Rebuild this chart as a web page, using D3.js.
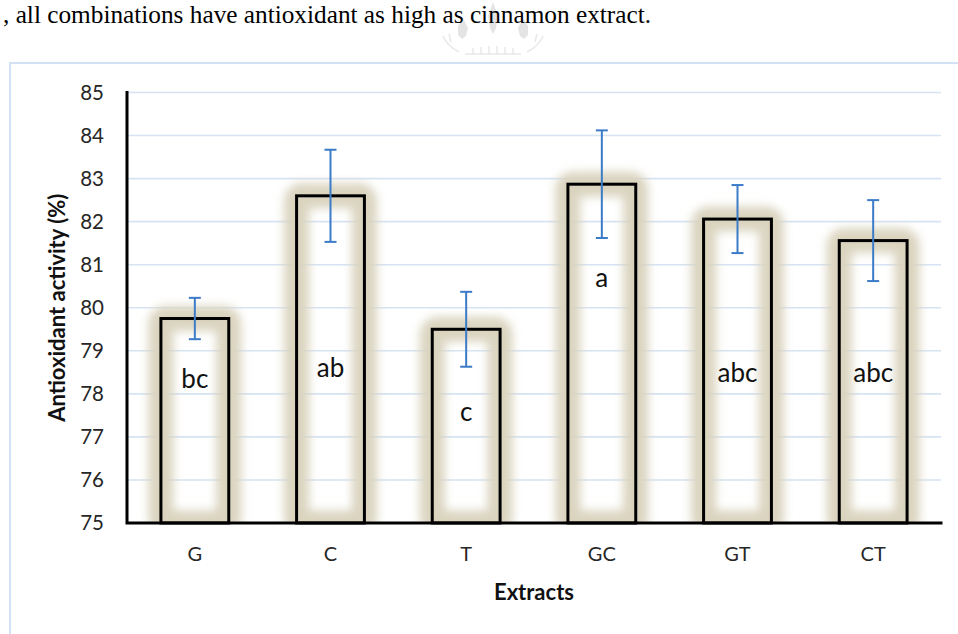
<!DOCTYPE html>
<html>
<head>
<meta charset="utf-8">
<script src="https://cdn.jsdelivr.net/npm/d3@7"></script>
<style>
  html, body { margin: 0; padding: 0; background: #fff; }
  svg { display: block; }
</style>
</head>
<body>
<svg id="chart" width="958" height="634"></svg>
<script>
// Antioxidant activity of single and combined extracts
const categories = ["G", "C", "T", "GC", "GT", "CT"];
const means = [79.75, 82.6, 79.5, 82.87, 82.06, 81.56];
const errors = [0.48, 1.07, 0.87, 1.25, 0.79, 0.94];
const letters = ["bc", "ab", "c", "a", "abc", "abc"];
const yTicks = [75, 76, 77, 78, 79, 80, 81, 82, 83, 84, 85];

// Baseline (in axis units) of each significance letter
const letterAt = [78.13, 78.38, 77.38, 80.48, 78.27, 78.27];

const svg = d3.select("#chart");
const plot = { left: 127, right: 941, top: 92.5, bottom: 523 };

// Faint crown watermark (behind the text)
const wm = svg.append("g").attr("transform", "translate(493,6)")
  .attr("fill", "#dedede").attr("stroke", "#e3e3e3").attr("opacity", 0.8);
wm.append("path").attr("stroke", "none")
  .attr("d", "M0,-4 L5,10 L3,22 L0,28 L-3,22 L-5,10 Z");
wm.append("path").attr("stroke", "none")
  .attr("d", "M-30,12 L-25,22 L-27,30 L-31,33 L-35,29 L-35,20 Z");
wm.append("path").attr("stroke", "none")
  .attr("d", "M30,12 L25,22 L27,30 L31,33 L35,29 L35,20 Z");
wm.append("path").attr("fill", "none").attr("stroke-width", 1.5)
  .attr("d", "M-50,30 Q-46,40 -34,46 M50,30 Q46,40 34,46 M-44,28 L-42,36 M44,28 L42,36");
wm.append("path").attr("fill", "none").attr("stroke-width", 1.5)
  .attr("d", "M-28,48 L28,48 M-20,42 L-20,48 M-12,41 L-12,48 M-4,40 L-4,48 M4,40 L4,48 M12,41 L12,48 M20,42 L20,48");

// Sentence fragment from the surrounding document
svg.append("text")
  .attr("x", 3).attr("y", 23)
  .attr("font-family", "'Liberation Serif', 'Times New Roman', serif")
  .attr("font-size", 25)
  .attr("fill", "#000")
  .attr("textLength", 648)
  .attr("lengthAdjust", "spacingAndGlyphs")
  .text(", all combinations have antioxidant as high as cinnamon extract.");

// Chart area border
svg.append("rect")
  .attr("x", 10).attr("y", 63)
  .attr("width", 1000).attr("height", 1000)
  .attr("fill", "none")
  .attr("stroke", "#d2e2f4")
  .attr("stroke-width", 2);

const defs = svg.append("defs");
defs.append("filter").attr("id", "glow")
  .attr("x", "-50%").attr("y", "-50%").attr("width", "200%").attr("height", "200%")
  .append("feGaussianBlur").attr("stdDeviation", 5);
defs.append("clipPath").attr("id", "plotClip")
  .append("rect")
  .attr("x", plot.left).attr("y", 0)
  .attr("width", plot.right - plot.left).attr("height", plot.bottom);

const x = d3.scaleBand()
  .domain(categories)
  .range([plot.left, plot.right])
  .paddingInner(0.5)
  .paddingOuter(0.25);

const y = d3.scaleLinear()
  .domain([75, 85])
  .range([plot.bottom, plot.top]);

const tickFont = "Lato, 'Open Sans', sans-serif";

// Horizontal gridlines
svg.append("g")
  .selectAll("line")
  .data(yTicks.filter(t => t !== 75))
  .join("line")
  .attr("x1", plot.left).attr("x2", plot.right)
  .attr("y1", d => y(d)).attr("y2", d => y(d))
  .attr("stroke", "#d6e3f3")
  .attr("stroke-width", 1.6);

const rows = categories.map((c, i) => ({
  cat: c, mean: means[i], err: errors[i], letter: letters[i], at: letterAt[i]
}));

// Soft glow around each bar outline
svg.append("g")
  .attr("clip-path", "url(#plotClip)")
  .append("g")
  .attr("filter", "url(#glow)")
  .selectAll("rect")
  .data(rows)
  .join("rect")
  .attr("x", d => x(d.cat))
  .attr("y", d => y(d.mean))
  .attr("width", x.bandwidth())
  .attr("height", d => y(75) - y(d.mean))
  .attr("rx", 5)
  .attr("fill", "none")
  .attr("stroke", "#dad4bf")
  .attr("stroke-width", 25);

// Bar outlines
svg.append("g")
  .selectAll("rect")
  .data(rows)
  .join("rect")
  .attr("x", d => x(d.cat))
  .attr("y", d => y(d.mean))
  .attr("width", x.bandwidth())
  .attr("height", d => y(75) - y(d.mean))
  .attr("fill", "none")
  .attr("stroke", "#000")
  .attr("stroke-width", 3);

// Error bars
const eb = svg.append("g")
  .attr("stroke", "#3b7bc8")
  .attr("stroke-width", 2)
  .selectAll("g")
  .data(rows)
  .join("g")
  .attr("transform", d => `translate(${x(d.cat) + x.bandwidth() / 2},0)`);
eb.append("line")
  .attr("y1", d => y(d.mean + d.err)).attr("y2", d => y(d.mean - d.err));
eb.append("line")
  .attr("x1", -6).attr("x2", 6)
  .attr("y1", d => y(d.mean + d.err)).attr("y2", d => y(d.mean + d.err));
eb.append("line")
  .attr("x1", -6).attr("x2", 6)
  .attr("y1", d => y(d.mean - d.err)).attr("y2", d => y(d.mean - d.err));

// Significance letters
svg.append("g")
  .selectAll("text")
  .data(rows)
  .join("text")
  .attr("x", d => x(d.cat) + x.bandwidth() / 2)
  .attr("y", d => y(d.at))
  .attr("text-anchor", "middle")
  .attr("font-family", tickFont)
  .attr("font-size", 26)
  .attr("fill", "#111")
  .text(d => d.letter);

// Y axis
const yAxis = svg.append("g")
  .attr("transform", `translate(${plot.left},0)`)
  .call(d3.axisLeft(y).tickValues(yTicks).tickSize(0).tickPadding(23).tickFormat(d3.format("d")));
yAxis.select(".domain").remove();
yAxis.selectAll("text")
  .attr("font-family", tickFont)
  .attr("font-size", 20.5)
  .attr("fill", "#262626");

// X axis
const xAxis = svg.append("g")
  .attr("transform", `translate(0,${plot.bottom})`)
  .call(d3.axisBottom(x).tickSize(0).tickPadding(24));
xAxis.select(".domain").remove();
xAxis.selectAll("text")
  .attr("font-family", tickFont)
  .attr("font-size", 20)
  .attr("fill", "#262626");

// Axis lines
svg.append("path")
  .attr("d", `M${plot.left},${plot.top} V${plot.bottom} H${plot.right}`)
  .attr("fill", "none")
  .attr("stroke", "#000")
  .attr("stroke-width", 3)
  .attr("stroke-linecap", "square");

// Axis titles
svg.append("text")
  .attr("x", (plot.left + plot.right) / 2)
  .attr("y", 600)
  .attr("text-anchor", "middle")
  .attr("font-family", tickFont)
  .attr("font-weight", "bold")
  .attr("font-size", 22)
  .attr("fill", "#111")
  .text("Extracts");

svg.append("text")
  .attr("transform", `translate(65,${(plot.top + plot.bottom) / 2}) rotate(-90)`)
  .attr("text-anchor", "middle")
  .attr("font-family", tickFont)
  .attr("font-weight", "bold")
  .attr("font-size", 22)
  .attr("fill", "#111")
  .text("Antioxidant activity (%)");
</script>
</body>
</html>
